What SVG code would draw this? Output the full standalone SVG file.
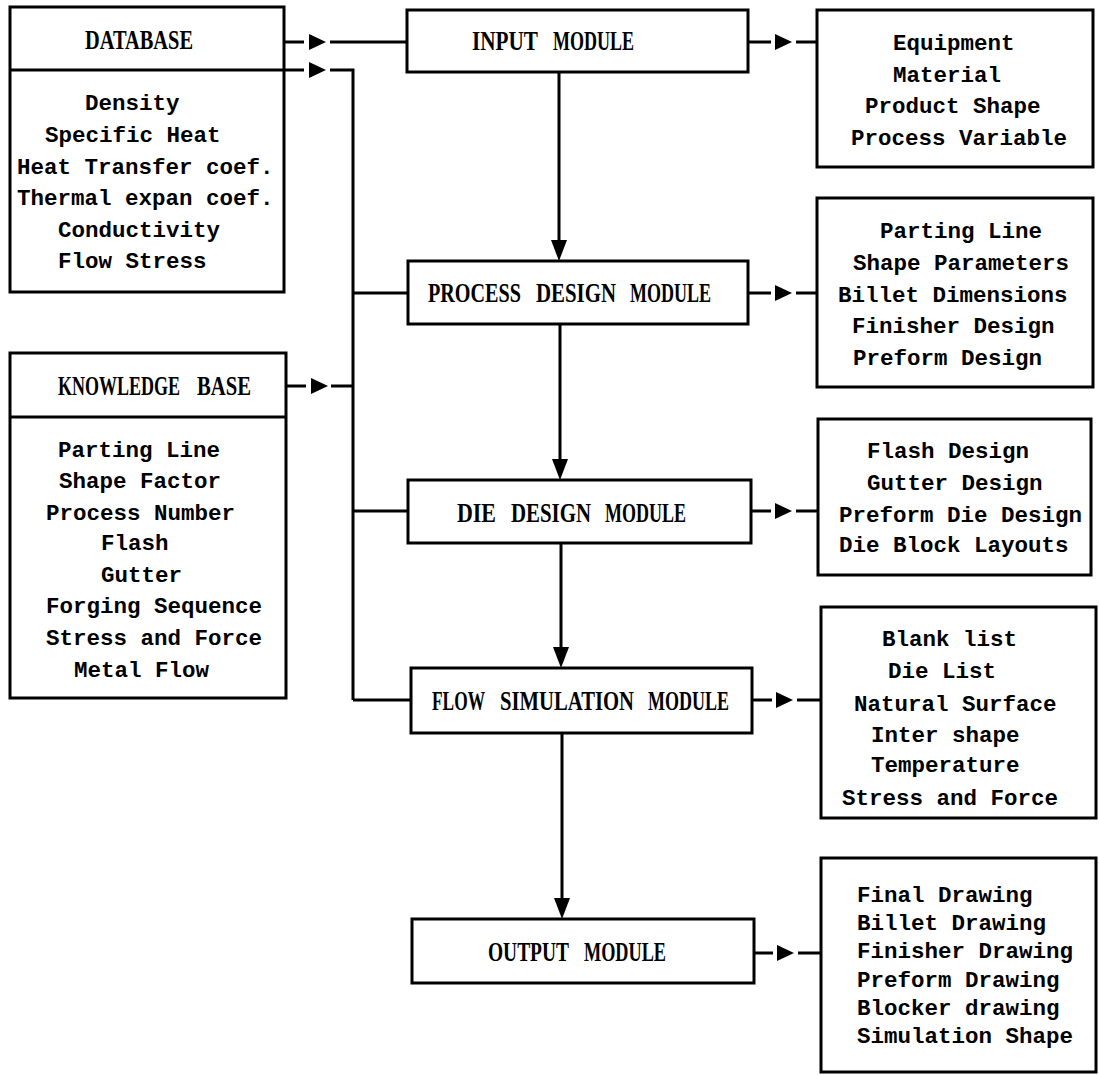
<svg xmlns="http://www.w3.org/2000/svg" xmlns:xlink="http://www.w3.org/1999/xlink" width="1099" height="1075" viewBox="0 0 1099 1075">
<style>
.box{fill:#fff;stroke:#000;stroke-width:3}
.ln{fill:none;stroke:#000;stroke-width:3}
.hd{font-family:"Liberation Serif","Times New Roman",serif;font-weight:bold;font-size:19.5px;fill:#000}
.it{font-family:"Liberation Mono","Courier New",monospace;font-weight:bold;font-size:22.5px;fill:#000}
</style>
<defs>
<path id="ahR" d="M0,-8 L17,0 L0,8 Z" fill="#000"/>
<path id="ahD" d="M-8,-21 L8,-21 L0,0 Z" fill="#000"/>
</defs>
<rect width="1099" height="1075" fill="#fff"/>

<g id="connectors">
<path class="ln" d="M284,42 H304 M330,42 H407"/>
<use xlink:href="#ahR" x="309" y="42"/>
<path class="ln" d="M284,70 H304 M330,70 H353 V700"/>
<use xlink:href="#ahR" x="309" y="70"/>
<path class="ln" d="M286,386 H306 M331,386 H353"/>
<use xlink:href="#ahR" x="311" y="386"/>
<path class="ln" d="M353,293 H408 M353,511 H408 M353,700 H411"/>
<path class="ln" d="M748,42 H771 M796,42 H817"/>
<use xlink:href="#ahR" x="775" y="42"/>
<path class="ln" d="M748,293 H771 M796,293 H817"/>
<use xlink:href="#ahR" x="775" y="293"/>
<path class="ln" d="M751,511 H771 M796,511 H818"/>
<use xlink:href="#ahR" x="775" y="511"/>
<path class="ln" d="M752,700 H772 M797,700 H821"/>
<use xlink:href="#ahR" x="776" y="700"/>
<path class="ln" d="M754,953 H773 M798,953 H821"/>
<use xlink:href="#ahR" x="777" y="953"/>
<path class="ln" d="M559,72 V245 M560,324 V464 M561,543 V652 M562,733 V903"/>
<use xlink:href="#ahD" x="559" y="261"/>
<use xlink:href="#ahD" x="560" y="480"/>
<use xlink:href="#ahD" x="561" y="668"/>
<use xlink:href="#ahD" x="562" y="919"/>
</g>

<g id="database">
<rect class="box" x="10" y="7" width="274" height="285"/>
<path class="ln" d="M10,70 H284"/>
<text class="hd" transform="translate(0,49) scale(1,1.4)" x="85" y="0" textLength="108" lengthAdjust="spacingAndGlyphs">DATABASE</text>
<text class="it" x="85" y="110">Density</text>
<text class="it" x="45" y="142">Specific Heat</text>
<text class="it" x="17" y="174">Heat Transfer coef.</text>
<text class="it" x="17" y="205">Thermal expan coef.</text>
<text class="it" x="58" y="237">Conductivity</text>
<text class="it" x="58" y="268">Flow Stress</text>
</g>

<g id="knowledge-base">
<rect class="box" x="10" y="353" width="276" height="345"/>
<path class="ln" d="M10,417 H286"/>
<text class="hd" transform="translate(0,395) scale(1,1.4)" y="0"><tspan x="58" textLength="122" lengthAdjust="spacingAndGlyphs">KNOWLEDGE</tspan> <tspan x="197" textLength="54" lengthAdjust="spacingAndGlyphs">BASE</tspan></text>
<text class="it" x="58" y="457">Parting Line</text>
<text class="it" x="59" y="488">Shape Factor</text>
<text class="it" x="46" y="520">Process Number</text>
<text class="it" x="101" y="550">Flash</text>
<text class="it" x="101" y="582">Gutter</text>
<text class="it" x="46" y="613">Forging Sequence</text>
<text class="it" x="46" y="645">Stress and Force</text>
<text class="it" x="74" y="677">Metal Flow</text>
</g>

<g id="input-module">
<rect class="box" x="407" y="10" width="341" height="62"/>
<text class="hd" transform="translate(0,50) scale(1,1.4)" y="0"><tspan x="472" textLength="66" lengthAdjust="spacingAndGlyphs">INPUT</tspan> <tspan x="553" textLength="81" lengthAdjust="spacingAndGlyphs">MODULE</tspan></text>
</g>

<g id="process-design-module">
<rect class="box" x="408" y="261" width="340" height="63"/>
<text class="hd" transform="translate(0,302) scale(1,1.4)" y="0"><tspan x="428" textLength="93" lengthAdjust="spacingAndGlyphs">PROCESS</tspan> <tspan x="536" textLength="80" lengthAdjust="spacingAndGlyphs">DESIGN</tspan> <tspan x="630" textLength="81" lengthAdjust="spacingAndGlyphs">MODULE</tspan></text>
</g>

<g id="die-design-module">
<rect class="box" x="408" y="480" width="343" height="63"/>
<text class="hd" transform="translate(0,522) scale(1,1.4)" y="0"><tspan x="457" textLength="39" lengthAdjust="spacingAndGlyphs">DIE</tspan> <tspan x="511" textLength="80" lengthAdjust="spacingAndGlyphs">DESIGN</tspan> <tspan x="605" textLength="81" lengthAdjust="spacingAndGlyphs">MODULE</tspan></text>
</g>

<g id="flow-simulation-module">
<rect class="box" x="411" y="668" width="341" height="65"/>
<text class="hd" transform="translate(0,710) scale(1,1.4)" y="0"><tspan x="432" textLength="53" lengthAdjust="spacingAndGlyphs">FLOW</tspan> <tspan x="500" textLength="134" lengthAdjust="spacingAndGlyphs">SIMULATION</tspan> <tspan x="648" textLength="81" lengthAdjust="spacingAndGlyphs">MODULE</tspan></text>
</g>

<g id="output-module">
<rect class="box" x="412" y="919" width="342" height="64"/>
<text class="hd" transform="translate(0,961) scale(1,1.4)" y="0"><tspan x="488" textLength="81" lengthAdjust="spacingAndGlyphs">OUTPUT</tspan> <tspan x="584" textLength="82" lengthAdjust="spacingAndGlyphs">MODULE</tspan></text>
</g>

<g id="input-items">
<rect class="box" x="817" y="10" width="276" height="157"/>
<text class="it" x="893" y="50">Equipment</text>
<text class="it" x="893" y="82">Material</text>
<text class="it" x="865" y="113">Product Shape</text>
<text class="it" x="851" y="145">Process Variable</text>
</g>

<g id="process-items">
<rect class="box" x="817" y="198" width="276" height="189"/>
<text class="it" x="880" y="238">Parting Line</text>
<text class="it" x="853" y="270">Shape Parameters</text>
<text class="it" x="838" y="302">Billet Dimensions</text>
<text class="it" x="852" y="333">Finisher Design</text>
<text class="it" x="853" y="365">Preform Design</text>
</g>

<g id="die-items">
<rect class="box" x="818" y="419" width="273" height="156"/>
<text class="it" x="867" y="458">Flash Design</text>
<text class="it" x="867" y="490">Gutter Design</text>
<text class="it" x="839" y="522">Preform Die Design</text>
<text class="it" x="839" y="552">Die Block Layouts</text>
</g>

<g id="flow-items">
<rect class="box" x="821" y="607" width="275" height="211"/>
<text class="it" x="882" y="646">Blank list</text>
<text class="it" x="888" y="678">Die List</text>
<text class="it" x="854" y="711">Natural Surface</text>
<text class="it" x="871" y="742">Inter shape</text>
<text class="it" x="871" y="772">Temperature</text>
<text class="it" x="842" y="805">Stress and Force</text>
</g>

<g id="output-items">
<rect class="box" x="821" y="858" width="275" height="214"/>
<text class="it" x="857" y="902">Final Drawing</text>
<text class="it" x="857" y="930">Billet Drawing</text>
<text class="it" x="857" y="958">Finisher Drawing</text>
<text class="it" x="857" y="987">Preform Drawing</text>
<text class="it" x="857" y="1015">Blocker drawing</text>
<text class="it" x="857" y="1043">Simulation Shape</text>
</g>
</svg>
